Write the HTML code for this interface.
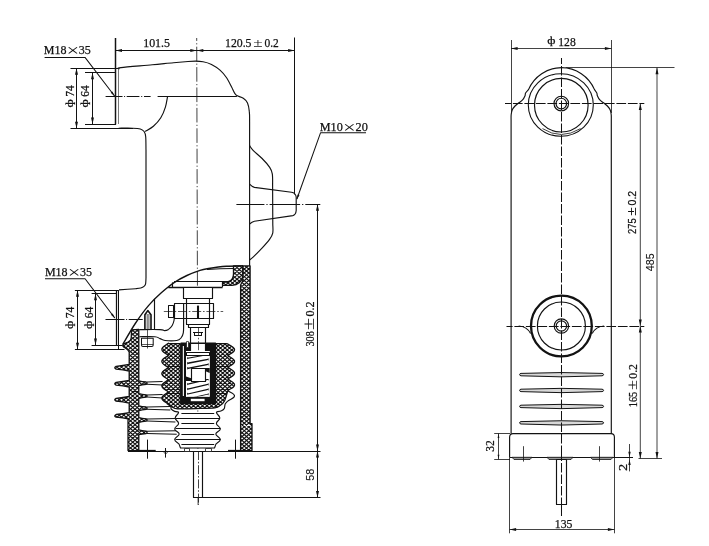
<!DOCTYPE html>
<html><head><meta charset="utf-8"><title>drawing</title>
<style>html,body{margin:0;padding:0;background:#fff}svg{display:block}</style></head>
<body>
<svg width="709" height="546" viewBox="0 0 709 546" stroke="#111" fill="none" stroke-linecap="butt" stroke-linejoin="round">
<defs>
<clipPath id="sp"><rect x="186" y="351" width="23.7" height="45.7"/></clipPath>
</defs>
<rect width="709" height="546" fill="#fff" stroke="none"/>
<g opacity="0.995">
<line x1="115.5" y1="38" x2="115.5" y2="124.5" stroke-width="1.49" />
<line x1="118.5" y1="68.5" x2="118.5" y2="124" stroke-width="0.8" stroke="#555"/>
<path d="M196.7,38L198.1,505" stroke-width="0.8" fill="none" stroke-dasharray="14.6 2.3 1.2 2.3" stroke-dashoffset="11.7"/>
<line x1="294.5" y1="37.5" x2="294.5" y2="194.5" stroke-width="1.03" />
<line x1="115.5" y1="50.5" x2="294.6" y2="50.5" stroke-width="1.03" />
<polygon points="115.5,50.5 122,49 122,52" fill="#111" stroke="none"/>
<polygon points="196.8,50.5 190.3,52 190.3,49" fill="#111" stroke="none"/>
<polygon points="196.8,50.5 203.3,49 203.3,52" fill="#111" stroke="none"/>
<polygon points="294.6,50.5 288.1,52 288.1,49" fill="#111" stroke="none"/>
<text transform="translate(143.2 47.4)" font-family='"Liberation Serif",serif' fill="#111" stroke="#111" stroke-width="0.25"><tspan x="0" y="0" font-size="12.3" textLength="26.8" lengthAdjust="spacingAndGlyphs">101.5</tspan></text>
<text transform="translate(225 47.4)" font-family='"Liberation Serif",serif' fill="#111" stroke="#111" stroke-width="0.25"><tspan x="0" y="0" font-size="12.3" textLength="26.5" lengthAdjust="spacingAndGlyphs">120.5</tspan><tspan x="28.2" y="0" font-size="13.4" textLength="9.4" lengthAdjust="spacingAndGlyphs" stroke-width="0">±</tspan><tspan x="39.5" y="0" font-size="12.3" textLength="14.3" lengthAdjust="spacingAndGlyphs">0.2</tspan></text>
<text transform="translate(43.7 54.2)" font-family='"Liberation Serif",serif' fill="#111" stroke="#111" stroke-width="0.25"><tspan x="0" y="0" font-size="12" textLength="22.7" lengthAdjust="spacingAndGlyphs">M18</tspan><tspan x="22.9" y="1.9" font-size="16" textLength="12.7" lengthAdjust="spacingAndGlyphs" stroke-width="0">×</tspan><tspan x="35" y="0" font-size="12" textLength="12" lengthAdjust="spacingAndGlyphs">35</tspan></text>
<path d="M44.6,57.4H85L114.6,96" stroke-width="1.03" fill="none" />
<polygon points="114.9,96.4 110.7,92.7 112.4,91.4" fill="#111" stroke="none"/>
<line x1="70.5" y1="68.5" x2="118.6" y2="68.5" stroke-width="1.03" />
<line x1="70.5" y1="128.5" x2="133" y2="128.5" stroke-width="1.03" />
<line x1="85" y1="72.5" x2="116" y2="72.5" stroke-width="1.03" />
<line x1="85" y1="124.5" x2="116" y2="124.5" stroke-width="1.03" />
<line x1="76.5" y1="68.3" x2="76.5" y2="128.2" stroke-width="1.03" />
<polygon points="76.5,68.3 78,74.8 75,74.8" fill="#111" stroke="none"/>
<polygon points="76.5,128.2 75,121.7 78,121.7" fill="#111" stroke="none"/>
<line x1="92.5" y1="72.7" x2="92.5" y2="124.1" stroke-width="1.03" />
<polygon points="92.5,72.7 94,79.2 91,79.2" fill="#111" stroke="none"/>
<polygon points="92.5,124.1 91,117.6 94,117.6" fill="#111" stroke="none"/>
<text transform="translate(73.5 107) rotate(-90)" font-family='"Liberation Serif",serif' fill="#111" stroke="#111" stroke-width="0.25"><tspan x="-0.4" y="-0.9" font-size="10.5" textLength="8.2" lengthAdjust="spacingAndGlyphs">ф</tspan><tspan x="10.2" y="0" font-size="11.6" textLength="11.4" lengthAdjust="spacingAndGlyphs">74</tspan></text>
<text transform="translate(89.3 107) rotate(-90)" font-family='"Liberation Serif",serif' fill="#111" stroke="#111" stroke-width="0.25"><tspan x="-0.4" y="-0.9" font-size="10.5" textLength="8.2" lengthAdjust="spacingAndGlyphs">ф</tspan><tspan x="10.2" y="0" font-size="11.6" textLength="11.4" lengthAdjust="spacingAndGlyphs">64</tspan></text>
<path d="M118.6,69.3C118.7,69.1 118.9,68.5 119.3,68.2C119.7,67.9 115.5,68.2 121,67.6C126.5,67 143.6,65.6 152.3,64.8C161.1,64 167.6,63.2 173.5,62.7C179.4,62.2 184.3,61.8 188,61.5C191.7,61.2 193,61.1 195.5,61.1C198,61.1 200.4,61.2 203.1,61.7C205.8,62.2 208.7,63 211.5,64.4C214.3,65.8 217.5,67.9 220,70.1C222.5,72.3 224.5,74.7 226.4,77.5C228.3,80.3 230.2,84.3 231.6,87C233,89.7 233.9,92 234.8,93.4C235.7,94.8 235.5,94.8 236.9,95.6C238.3,96.4 241.5,97 243.3,98.2C245.1,99.4 246.5,100.7 247.5,102.9C248.5,105.1 249,108.2 249.3,111.4C249.7,114.6 249.6,117.1 249.6,121.9C249.6,126.7 249.6,137 249.6,140V266" stroke-width="1.15" fill="none" />
<line x1="157.6" y1="96.5" x2="236.9" y2="96.5" stroke-width="1.15" />
<line x1="105.6" y1="96.5" x2="150.6" y2="96.5" stroke-width="1.03" stroke-dasharray="16.9 1.6 1 1.6 12.7 1.8 1 1.8 6.6"/>
<path d="M167.6,96.3C167.2,98.1 166.5,103.5 165.4,107.1C164.3,110.7 162.8,114.5 160.8,117.7C158.8,120.9 156,123.9 153.4,126.2C150.8,128.5 146.6,130.5 145.2,131.4" stroke-width="1.15" fill="none" />
<path d="M118.6,128.2C120.9,128.2 129,128.1 132.6,128.2C136.2,128.3 138.4,128.4 140.3,129C142.2,129.6 143.2,130.2 144.1,131.5C145,132.8 145.4,133.6 145.7,136.7C146,139.8 145.9,147.8 146,150L146,278 C145.9,279 145.9,282.4 145.6,283.8C145.3,285.2 144.8,285.7 144,286.4C143.2,287.1 142.2,287.6 140.8,288C139.4,288.4 139.2,288.4 135.6,288.7C132,289 121.8,289.7 119,289.9" stroke-width="1.15" fill="none" />
<path d="M249.6,145.6C250.2,146.4 251,148.2 253.1,150.3C255.2,152.5 259.3,155.7 262.1,158.5C264.9,161.3 268,164.8 269.7,167.4C271.4,170 271.8,170.9 272.3,173.8C272.8,176.7 272.6,183.1 272.6,185L272.8,225C272.8,226.3 273.3,230.4 272.8,232.8C272.3,235.2 271.5,236.6 269.7,239.2C267.9,241.8 264.8,245.2 262,248.2C259.2,251.2 255.2,255.2 253.1,257.2C251,259.2 250.2,259.5 249.6,260" stroke-width="1.15" fill="none" />
<path d="M249.6,184.1Q252,186.6 254.4,187.4L291.5,192.3Q295.6,193 296.2,197V210.5Q295.8,215 292.8,215.6L254.4,221.3Q252,222 249.6,224" stroke-width="1.15" fill="none" />
<line x1="236.4" y1="204.5" x2="320.5" y2="204.5" stroke-width="1.03" stroke-dasharray="28 2 1.2 2 30.5 2 1.2 2 15"/>
<text transform="translate(319.8 130.8)" font-family='"Liberation Serif",serif' fill="#111" stroke="#111" stroke-width="0.25"><tspan x="0" y="0" font-size="12" textLength="23" lengthAdjust="spacingAndGlyphs">M10</tspan><tspan x="23.2" y="1.9" font-size="16" textLength="12.7" lengthAdjust="spacingAndGlyphs" stroke-width="0">×</tspan><tspan x="35.7" y="0" font-size="12" textLength="12.3" lengthAdjust="spacingAndGlyphs">20</tspan></text>
<path d="M366,132.8H320.5L296.9,199" stroke-width="1.03" fill="none" />
<polygon points="296.9,199.5 297.6,194.5 299.5,195.1" fill="#111" stroke="none"/>
<line x1="317.5" y1="204.2" x2="317.5" y2="497.5" stroke-width="1.03" />
<polygon points="317.5,204.2 319,210.7 316,210.7" fill="#111" stroke="none"/>
<polygon points="317.5,451 316,444.5 319,444.5" fill="#111" stroke="none"/>
<polygon points="317.5,451 319,457.5 316,457.5" fill="#111" stroke="none"/>
<polygon points="317.5,497.5 316,491 319,491" fill="#111" stroke="none"/>
<line x1="128" y1="451.5" x2="320.5" y2="451.5" stroke-width="1.03" />
<line x1="198" y1="497.5" x2="320.5" y2="497.5" stroke-width="1.03" />
<text transform="translate(313.5 346.5) rotate(-90)" font-family='"Liberation Serif",serif' fill="#111" stroke="#111" stroke-width="0.25"><tspan x="0" y="0" font-size="12.6" textLength="15.3" lengthAdjust="spacingAndGlyphs">308</tspan><tspan x="16.3" y="0" font-size="15.7" textLength="12.6" lengthAdjust="spacingAndGlyphs" stroke-width="0">±</tspan><tspan x="29.9" y="0" font-size="12.6" textLength="15.2" lengthAdjust="spacingAndGlyphs">0.2</tspan></text>
<text transform="translate(313.5 480.7) rotate(-90)" font-family='"Liberation Sans",sans-serif' fill="#111" stroke="#111" stroke-width="0.1"><tspan x="0" y="0" font-size="11.4" textLength="12" lengthAdjust="spacingAndGlyphs">58</tspan></text>
<text transform="translate(44.9 275.9)" font-family='"Liberation Serif",serif' fill="#111" stroke="#111" stroke-width="0.25"><tspan x="0" y="0" font-size="12" textLength="22.7" lengthAdjust="spacingAndGlyphs">M18</tspan><tspan x="22.9" y="1.9" font-size="16" textLength="12.7" lengthAdjust="spacingAndGlyphs" stroke-width="0">×</tspan><tspan x="35" y="0" font-size="12" textLength="12" lengthAdjust="spacingAndGlyphs">35</tspan></text>
<path d="M45,278.8H85.1L114.8,318" stroke-width="1.03" fill="none" />
<polygon points="115.1,318.4 110.9,314.7 112.7,313.4" fill="#111" stroke="none"/>
<line x1="74.9" y1="290.5" x2="118.8" y2="290.5" stroke-width="1.03" />
<line x1="74.9" y1="349.5" x2="124.5" y2="349.5" stroke-width="1.03" />
<line x1="91.6" y1="293.5" x2="116" y2="293.5" stroke-width="1.03" />
<line x1="91.6" y1="345.5" x2="122.5" y2="345.5" stroke-width="1.03" />
<line x1="77.5" y1="290.2" x2="77.5" y2="349.2" stroke-width="1.03" />
<polygon points="77.5,290.2 79,296.7 76,296.7" fill="#111" stroke="none"/>
<polygon points="77.5,349.2 76,342.7 79,342.7" fill="#111" stroke="none"/>
<line x1="95.5" y1="293.8" x2="95.5" y2="345" stroke-width="1.03" />
<polygon points="95.5,293.8 97,300.3 94,300.3" fill="#111" stroke="none"/>
<polygon points="95.5,345 94,338.5 97,338.5" fill="#111" stroke="none"/>
<text transform="translate(74.2 328.5) rotate(-90)" font-family='"Liberation Serif",serif' fill="#111" stroke="#111" stroke-width="0.25"><tspan x="-0.4" y="-0.9" font-size="10.5" textLength="8.2" lengthAdjust="spacingAndGlyphs">ф</tspan><tspan x="10.2" y="0" font-size="11.6" textLength="11.4" lengthAdjust="spacingAndGlyphs">74</tspan></text>
<text transform="translate(92.8 328.5) rotate(-90)" font-family='"Liberation Serif",serif' fill="#111" stroke="#111" stroke-width="0.25"><tspan x="-0.4" y="-0.9" font-size="10.5" textLength="8.2" lengthAdjust="spacingAndGlyphs">ф</tspan><tspan x="10.2" y="0" font-size="11.6" textLength="11.4" lengthAdjust="spacingAndGlyphs">64</tspan></text>
<line x1="116.5" y1="290.2" x2="116.5" y2="345" stroke-width="1.26" />
<line x1="118.5" y1="290.2" x2="118.5" y2="349.2" stroke-width="1.03" />
<line x1="105.5" y1="319.5" x2="143" y2="319.5" stroke-width="1.03" stroke-dasharray="19 1.6 1 1.6 14"/>
<path d="M243,265.9C240.2,266 232.2,265.9 226.4,266.3C220.7,266.7 212.9,267.8 208.5,268.5C204.1,269.2 203.6,269.2 200,270.4C196.4,271.6 191.2,273.5 186.9,275.5C182.6,277.5 178.4,279.7 174.1,282.6C169.8,285.5 165.6,289 161.3,292.8C157,296.6 152.8,300.6 148.5,305.6C144.2,310.6 139.9,316.5 135.6,323C131.3,329.5 124.9,340.8 122.8,344.4" stroke-width="1.38" fill="none" />
<clipPath id="c1"><path d="M242.7,265.9H250.1V423.6H252V450.6H240.6V285L242.7,281Z"/></clipPath>
<path d="M242.7,265.9H250.1V423.6H252V450.6H240.6V285L242.7,281Z" fill="#fff" stroke="none"/>
<path d="M240,250L253,261.1M240,253.9L253,265M240,257.7L253,268.8M240,261.6L253,272.7M240,265.4L253,276.6M240,269.3L253,280.4M240,273.1L253,284.3M240,277L253,288.1M240,280.8L253,292M240,284.7L253,295.8M240,288.5L253,299.7M240,292.4L253,303.5M240,296.2L253,307.4M240,300.1L253,311.2M240,303.9L253,315.1M240,307.8L253,318.9M240,311.6L253,322.8M240,315.5L253,326.6M240,319.3L253,330.5M240,323.2L253,334.3M240,327L253,338.2M240,330.9L253,342M240,334.7L253,345.9M240,338.6L253,349.7M240,342.4L253,353.6M240,346.3L253,357.4M240,350.1L253,361.3M240,354L253,365.1M240,357.8L253,369M240,361.7L253,372.8M240,365.5L253,376.7M240,369.4L253,380.5M240,373.2L253,384.4M240,377.1L253,388.2M240,380.9L253,392.1M240,384.8L253,395.9M240,388.6L253,399.8M240,392.5L253,403.6M240,396.3L253,407.5M240,400.2L253,411.3M240,404L253,415.2M240,407.9L253,419M240,411.7L253,422.9M240,415.6L253,426.7M240,419.4L253,430.6M240,423.3L253,434.4M240,427.1L253,438.3M240,431L253,442.1M240,434.8L253,446M240,438.7L253,449.8M240,442.5L253,453.7M240,446.4L253,457.5M240,450.2L253,461.4M240,454.1L253,465.2M240,261.1L253,250M240,265L253,253.9M240,268.9L253,257.7M240,272.7L253,261.6M240,276.6L253,265.4M240,280.4L253,269.3M240,284.3L253,273.1M240,288.1L253,277M240,292L253,280.8M240,295.8L253,284.7M240,299.7L253,288.5M240,303.5L253,292.4M240,307.4L253,296.2M240,311.2L253,300.1M240,315.1L253,303.9M240,318.9L253,307.8M240,322.8L253,311.6M240,326.6L253,315.5M240,330.5L253,319.3M240,334.3L253,323.2M240,338.2L253,327M240,342L253,330.9M240,345.9L253,334.7M240,349.7L253,338.6M240,353.6L253,342.4M240,357.4L253,346.3M240,361.3L253,350.1M240,365.1L253,354M240,369L253,357.8M240,372.8L253,361.7M240,376.7L253,365.5M240,380.5L253,369.4M240,384.4L253,373.2M240,388.2L253,377.1M240,392.1L253,380.9M240,395.9L253,384.8M240,399.8L253,388.6M240,403.6L253,392.5M240,407.5L253,396.3M240,411.3L253,400.2M240,415.2L253,404M240,419L253,407.9M240,422.9L253,411.7M240,426.7L253,415.6M240,430.6L253,419.4M240,434.4L253,423.3M240,438.3L253,427.1M240,442.1L253,431M240,446L253,434.8M240,449.8L253,438.7M240,453.7L253,442.5M240,457.5L253,446.4M240,461.4L253,450.2M240,465.2L253,454.1" stroke-width="1.15" clip-path="url(#c1)"/>
<path d="M242.7,265.9H250.1V423.6H252V450.6H240.6V285L242.7,281Z" stroke-width="1.3"/>
<clipPath id="c2"><path d="M233.5,266H242.7V275.5Q242.4,280.5 239.2,282.8Q236.5,285.2 232,285.4H222.6V282.2H226.4Q230.5,281.8 231.8,279.6Q233.5,277.5 233.5,274Z"/></clipPath>
<path d="M233.5,266H242.7V275.5Q242.4,280.5 239.2,282.8Q236.5,285.2 232,285.4H222.6V282.2H226.4Q230.5,281.8 231.8,279.6Q233.5,277.5 233.5,274Z" fill="#fff" stroke="none"/>
<path d="M222,243.2L243,261.1M222,247L243,265M222,250.9L243,268.9M222,254.7L243,272.7M222,258.6L243,276.5M222,262.4L243,280.4M222,266.3L243,284.2M222,270.1L243,288.1M222,274L243,292M222,277.8L243,295.8M222,281.7L243,299.7M222,285.5L243,303.5M222,289.4L243,307.4M222,261.1L243,243.2M222,265L243,247M222,268.9L243,250.9M222,272.7L243,254.7M222,276.6L243,258.6M222,280.4L243,262.4M222,284.3L243,266.3M222,288.1L243,270.1M222,292L243,274M222,295.8L243,277.8M222,299.7L243,281.7M222,303.5L243,285.5M222,307.4L243,289.4" stroke-width="1.15" clip-path="url(#c2)"/>
<path d="M233.5,266H242.7V275.5Q242.4,280.5 239.2,282.8Q236.5,285.2 232,285.4H222.6V282.2H226.4Q230.5,281.8 231.8,279.6Q233.5,277.5 233.5,274Z" stroke-width="1.3"/>
<path d="M207,269.6Q220,268.4 233.5,268.4" stroke-width="1.03" fill="none" />
<path d="M174,281.5H228Q232.5,281 233.5,276" stroke-width="1.15" fill="none" />
<line x1="168.3" y1="287.5" x2="222.6" y2="287.5" stroke-width="1.26" />
<line x1="222.5" y1="282.2" x2="222.5" y2="287" stroke-width="1.15" />
<line x1="172.5" y1="282.4" x2="172.5" y2="287" stroke-width="1.15" />
<rect x="183.5" y="287.5" width="29" height="11" stroke-width="1.15" fill="#fff" />
<rect x="186.5" y="298.5" width="23" height="26" stroke-width="1.15" fill="#fff" />
<rect x="174.5" y="303.5" width="39" height="15" stroke-width="1.15" fill="#fff" />
<line x1="186.5" y1="303.1" x2="186.5" y2="318.5" stroke-width="1.15" />
<line x1="209.5" y1="303.1" x2="209.5" y2="318.5" stroke-width="1.15" />
<line x1="198" y1="305.6" x2="198" y2="318.5" stroke-width="2.07" />
<rect x="168.5" y="305.5" width="5" height="12" stroke-width="1.03" fill="#fff" />
<line x1="163.8" y1="311.5" x2="223.2" y2="311.5" stroke-width="0.7" stroke-dasharray="9 1.8 1.6 1.8"/>
<rect x="188.5" y="324.5" width="20" height="3" stroke-width="1.15" fill="#fff" />
<rect x="190.5" y="327.5" width="15" height="24" stroke-width="1.15" fill="#fff" />
<line x1="193" y1="332.5" x2="203" y2="332.5" stroke-width="1.03" />
<rect x="194.5" y="332.5" width="7" height="3" stroke-width="1.03" fill="none" />
<line x1="154.5" y1="298.8" x2="154.5" y2="329.6" stroke-width="1.15" />
<path d="M144.9,329V314.8L147.8,310.6L151,314.8V329" stroke-width="1.61" fill="none" />
<path d="M147.2,314V329M148.9,314V329" stroke-width="0.7" fill="none" />
<path d="M139.2,329.6C142.7,329.6 155.8,329.4 160,329.6C164.2,329.8 163.1,330.6 164.5,330.6C165.9,330.6 167.2,330.2 168.5,329.4C169.8,328.5 171.3,327 172.2,325.5C173.1,324 173.7,321.9 174,320.5C174.3,319.1 174.2,317.8 174.2,317.2" stroke-width="1.15" fill="none" />
<path d="M139.2,336.7C141.8,336.7 151.4,336.4 154.9,336.7C158.4,337 158.3,338 160,338.6C161.7,339.2 162.2,340.2 165,340.5C167.8,340.8 174,340.9 176.7,340.5C179.4,340.1 179.9,339.3 181,338C182.1,336.7 182.9,335.1 183.3,332.8C183.7,330.6 183.6,329.4 183.6,324.5C183.6,319.6 183.6,307.1 183.6,303.6" stroke-width="1.15" fill="none" />
<path d="M141.5,338.3H153.2V345Q153.2,346.4 151.8,346.4H142.9Q141.5,346.4 141.5,345Z" stroke-width="1.03" fill="none" />
<line x1="141.5" y1="344.5" x2="153.2" y2="344.5" stroke-width="0.7" />
<line x1="147.5" y1="329" x2="147.5" y2="348.5" stroke-width="0.7" />
<clipPath id="c3"><path d="M131.6,329.8L138.8,329.4L138.8,380.8Q141.8,381.7 146.2,382Q148,383.2 146.2,384.4Q141.8,384.7 138.8,385.6L138.8,393.6Q141.8,394.5 146.2,394.8Q148,396 146.2,397.2Q141.8,397.5 138.8,398.4L138.8,405.8Q141.8,406.7 146.2,407Q148,408.2 146.2,409.4Q141.8,409.7 138.8,410.6L138.8,417.6Q141.8,418.5 146.2,418.8Q148,420 146.2,421.2Q141.8,421.5 138.8,422.4L138.8,429.9Q141.8,430.8 146.2,431.1Q148,432.3 146.2,433.5Q141.8,433.8 138.8,434.7L138.8,450.6H128V420L129.2,419.2Q123.2,417.9 116.1,417.2Q113.4,415.9 116.1,414.5Q123.2,413.9 129.2,412.6L129.2,403.1Q123.2,401.8 116.1,401.2Q113.4,399.8 116.1,398.4Q123.2,397.8 129.2,396.5L129.2,387Q123.2,385.7 116.1,385.1Q113.4,383.7 116.1,382.3Q123.2,381.7 129.2,380.4L129.2,371Q123.2,369.7 116.1,369.1Q113.4,367.7 116.1,366.3Q123.2,365.7 129.2,364.4L129.2,352Q128.5,349.5 124.8,347.6Q122,346.2 123,344.6Q124.5,343.3 128,342Q131,340.8 131.2,338Z"/></clipPath>
<path d="M131.6,329.8L138.8,329.4L138.8,380.8Q141.8,381.7 146.2,382Q148,383.2 146.2,384.4Q141.8,384.7 138.8,385.6L138.8,393.6Q141.8,394.5 146.2,394.8Q148,396 146.2,397.2Q141.8,397.5 138.8,398.4L138.8,405.8Q141.8,406.7 146.2,407Q148,408.2 146.2,409.4Q141.8,409.7 138.8,410.6L138.8,417.6Q141.8,418.5 146.2,418.8Q148,420 146.2,421.2Q141.8,421.5 138.8,422.4L138.8,429.9Q141.8,430.8 146.2,431.1Q148,432.3 146.2,433.5Q141.8,433.8 138.8,434.7L138.8,450.6H128V420L129.2,419.2Q123.2,417.9 116.1,417.2Q113.4,415.9 116.1,414.5Q123.2,413.9 129.2,412.6L129.2,403.1Q123.2,401.8 116.1,401.2Q113.4,399.8 116.1,398.4Q123.2,397.8 129.2,396.5L129.2,387Q123.2,385.7 116.1,385.1Q113.4,383.7 116.1,382.3Q123.2,381.7 129.2,380.4L129.2,371Q123.2,369.7 116.1,369.1Q113.4,367.7 116.1,366.3Q123.2,365.7 129.2,364.4L129.2,352Q128.5,349.5 124.8,347.6Q122,346.2 123,344.6Q124.5,343.3 128,342Q131,340.8 131.2,338Z" fill="#fff" stroke="none"/>
<path d="M112,293.5L149,325.1M112,297.3L149,329M112,301.2L149,332.9M112,305L149,336.7M112,308.9L149,340.6M112,312.7L149,344.4M112,316.6L149,348.3M112,320.4L149,352.1M112,324.3L149,356M112,328.1L149,359.8M112,332L149,363.7M112,335.8L149,367.5M112,339.7L149,371.4M112,343.5L149,375.2M112,347.4L149,379.1M112,351.2L149,382.9M112,355.1L149,386.8M112,358.9L149,390.6M112,362.8L149,394.5M112,366.6L149,398.3M112,370.5L149,402.2M112,374.3L149,406M112,378.2L149,409.9M112,382L149,413.7M112,385.9L149,417.6M112,389.7L149,421.4M112,393.6L149,425.3M112,397.4L149,429.1M112,401.3L149,433M112,405.1L149,436.8M112,409L149,440.7M112,412.8L149,444.5M112,416.7L149,448.4M112,420.5L149,452.2M112,424.4L149,456.1M112,428.2L149,459.9M112,432.1L149,463.8M112,435.9L149,467.6M112,439.8L149,471.5M112,443.6L149,475.3M112,447.5L149,479.2M112,451.3L149,483M112,455.2L149,486.9M112,325.1L149,293.5M112,329L149,297.3M112,332.9L149,301.2M112,336.7L149,305M112,340.6L149,308.9M112,344.4L149,312.7M112,348.3L149,316.6M112,352.1L149,320.4M112,356L149,324.3M112,359.8L149,328.1M112,363.7L149,332M112,367.5L149,335.8M112,371.4L149,339.7M112,375.2L149,343.5M112,379.1L149,347.4M112,382.9L149,351.2M112,386.8L149,355.1M112,390.6L149,358.9M112,394.5L149,362.8M112,398.3L149,366.6M112,402.2L149,370.5M112,406L149,374.3M112,409.9L149,378.2M112,413.7L149,382M112,417.6L149,385.9M112,421.4L149,389.7M112,425.3L149,393.6M112,429.1L149,397.4M112,433L149,401.3M112,436.8L149,405.1M112,440.7L149,409M112,444.5L149,412.8M112,448.4L149,416.7M112,452.2L149,420.5M112,456.1L149,424.4M112,459.9L149,428.2M112,463.8L149,432.1M112,467.6L149,435.9M112,471.5L149,439.8M112,475.3L149,443.6M112,479.2L149,447.5M112,483L149,451.3M112,486.9L149,455.2" stroke-width="1.15" clip-path="url(#c3)"/>
<path d="M131.6,329.8L138.8,329.4L138.8,380.8Q141.8,381.7 146.2,382Q148,383.2 146.2,384.4Q141.8,384.7 138.8,385.6L138.8,393.6Q141.8,394.5 146.2,394.8Q148,396 146.2,397.2Q141.8,397.5 138.8,398.4L138.8,405.8Q141.8,406.7 146.2,407Q148,408.2 146.2,409.4Q141.8,409.7 138.8,410.6L138.8,417.6Q141.8,418.5 146.2,418.8Q148,420 146.2,421.2Q141.8,421.5 138.8,422.4L138.8,429.9Q141.8,430.8 146.2,431.1Q148,432.3 146.2,433.5Q141.8,433.8 138.8,434.7L138.8,450.6H128V420L129.2,419.2Q123.2,417.9 116.1,417.2Q113.4,415.9 116.1,414.5Q123.2,413.9 129.2,412.6L129.2,403.1Q123.2,401.8 116.1,401.2Q113.4,399.8 116.1,398.4Q123.2,397.8 129.2,396.5L129.2,387Q123.2,385.7 116.1,385.1Q113.4,383.7 116.1,382.3Q123.2,381.7 129.2,380.4L129.2,371Q123.2,369.7 116.1,369.1Q113.4,367.7 116.1,366.3Q123.2,365.7 129.2,364.4L129.2,352Q128.5,349.5 124.8,347.6Q122,346.2 123,344.6Q124.5,343.3 128,342Q131,340.8 131.2,338Z" stroke-width="1.3"/>
<path d="M147,382.1L162.6,381.6M147,384.3L162.6,385.1" stroke-width="1.03" fill="none" />
<path d="M147,394.9L162.6,394.4M147,397.1L162.6,397.9" stroke-width="1.03" fill="none" />
<path d="M147,407.1L170.3,406.6M147,409.3L170.3,410.1" stroke-width="1.03" fill="none" />
<path d="M147,418.9L175.4,418.4M147,421.1L175.4,421.9" stroke-width="1.03" fill="none" />
<path d="M147,431.2L176.7,430.7M147,433.4L176.7,434.2" stroke-width="1.03" fill="none" />
<clipPath id="c4"><path d="M180.3,343.7H171Q168.4,343.7 168.4,343.2C165.5,345.6 161.4,346.9 161.9,349.3C161.4,351.7 165.5,353 168.4,355.4C165.5,357.8 161.4,359.1 161.9,361.5C161.4,363.9 165.5,365.2 168.4,367.6C165.5,370 161.4,371.3 161.9,373.7C161.4,376.1 165.5,377.4 168.4,379.8C165.5,382.2 161.4,383.5 161.9,385.9C161.4,388.3 165.5,389.6 168.4,392C165.5,394.4 161.4,395.7 161.9,398.1C161.4,400.5 165.5,401.8 168.4,404.2C168.7,404.5 169.3,405.5 170,406C170.7,406.5 171.2,406.7 172.5,407.2C173.8,407.7 173.8,408.6 177.7,408.8C181.6,409 189.8,408.8 196,408.6C202.2,408.4 210.9,408.3 214.9,407.8C218.9,407.3 218.4,406.6 220,405.5C221.6,404.4 223.2,403.5 224.5,401C225.8,398.5 227.2,392.4 227.8,390.7C230.8,388.4 235,387.2 234.5,384.8C235,382.5 230.8,381.3 227.8,379C230.8,376.7 235,375.5 234.5,373.1C235,370.8 230.8,369.6 227.8,367.3C230.8,365 235,363.8 234.5,361.4C235,359.1 230.8,357.9 227.8,355.6C230.8,353.3 235,352.1 234.5,349.7C235,347.4 230.8,346.2 227.8,343.9Q227.8,343.7 226,343.7H215.5V403.7H180.3Z"/></clipPath>
<path d="M180.3,343.7H171Q168.4,343.7 168.4,343.2C165.5,345.6 161.4,346.9 161.9,349.3C161.4,351.7 165.5,353 168.4,355.4C165.5,357.8 161.4,359.1 161.9,361.5C161.4,363.9 165.5,365.2 168.4,367.6C165.5,370 161.4,371.3 161.9,373.7C161.4,376.1 165.5,377.4 168.4,379.8C165.5,382.2 161.4,383.5 161.9,385.9C161.4,388.3 165.5,389.6 168.4,392C165.5,394.4 161.4,395.7 161.9,398.1C161.4,400.5 165.5,401.8 168.4,404.2C168.7,404.5 169.3,405.5 170,406C170.7,406.5 171.2,406.7 172.5,407.2C173.8,407.7 173.8,408.6 177.7,408.8C181.6,409 189.8,408.8 196,408.6C202.2,408.4 210.9,408.3 214.9,407.8C218.9,407.3 218.4,406.6 220,405.5C221.6,404.4 223.2,403.5 224.5,401C225.8,398.5 227.2,392.4 227.8,390.7C230.8,388.4 235,387.2 234.5,384.8C235,382.5 230.8,381.3 227.8,379C230.8,376.7 235,375.5 234.5,373.1C235,370.8 230.8,369.6 227.8,367.3C230.8,365 235,363.8 234.5,361.4C235,359.1 230.8,357.9 227.8,355.6C230.8,353.3 235,352.1 234.5,349.7C235,347.4 230.8,346.2 227.8,343.9Q227.8,343.7 226,343.7H215.5V403.7H180.3Z" fill="#fff" stroke="none"/>
<path d="M160,273.1L236,338.1M160,277L236,342M160,280.8L236,345.9M160,284.7L236,349.7M160,288.5L236,353.6M160,292.4L236,357.4M160,296.2L236,361.3M160,300.1L236,365.1M160,303.9L236,369M160,307.8L236,372.8M160,311.6L236,376.7M160,315.5L236,380.5M160,319.3L236,384.4M160,323.2L236,388.2M160,327L236,392.1M160,330.9L236,395.9M160,334.7L236,399.8M160,338.6L236,403.6M160,342.4L236,407.5M160,346.3L236,411.3M160,350.1L236,415.2M160,354L236,419M160,357.8L236,422.9M160,361.7L236,426.7M160,365.5L236,430.6M160,369.4L236,434.4M160,373.2L236,438.3M160,377.1L236,442.1M160,380.9L236,446M160,384.8L236,449.8M160,388.6L236,453.7M160,392.5L236,457.5M160,396.3L236,461.4M160,400.2L236,465.2M160,404L236,469.1M160,407.9L236,472.9M160,411.7L236,476.8M160,338.1L236,273.1M160,342L236,277M160,345.9L236,280.8M160,349.7L236,284.7M160,353.6L236,288.5M160,357.4L236,292.4M160,361.3L236,296.2M160,365.1L236,300.1M160,369L236,303.9M160,372.8L236,307.8M160,376.7L236,311.6M160,380.5L236,315.5M160,384.4L236,319.3M160,388.2L236,323.2M160,392.1L236,327M160,395.9L236,330.9M160,399.8L236,334.7M160,403.6L236,338.6M160,407.5L236,342.4M160,411.3L236,346.3M160,415.2L236,350.1M160,419L236,354M160,422.9L236,357.8M160,426.7L236,361.7M160,430.6L236,365.5M160,434.4L236,369.4M160,438.3L236,373.2M160,442.1L236,377.1M160,446L236,380.9M160,449.8L236,384.8M160,453.7L236,388.6M160,457.5L236,392.5M160,461.4L236,396.3M160,465.2L236,400.2M160,469.1L236,404M160,472.9L236,407.9M160,476.8L236,411.7" stroke-width="1.15" clip-path="url(#c4)"/>
<path d="M180.3,343.7H171Q168.4,343.7 168.4,343.2C165.5,345.6 161.4,346.9 161.9,349.3C161.4,351.7 165.5,353 168.4,355.4C165.5,357.8 161.4,359.1 161.9,361.5C161.4,363.9 165.5,365.2 168.4,367.6C165.5,370 161.4,371.3 161.9,373.7C161.4,376.1 165.5,377.4 168.4,379.8C165.5,382.2 161.4,383.5 161.9,385.9C161.4,388.3 165.5,389.6 168.4,392C165.5,394.4 161.4,395.7 161.9,398.1C161.4,400.5 165.5,401.8 168.4,404.2C168.7,404.5 169.3,405.5 170,406C170.7,406.5 171.2,406.7 172.5,407.2C173.8,407.7 173.8,408.6 177.7,408.8C181.6,409 189.8,408.8 196,408.6C202.2,408.4 210.9,408.3 214.9,407.8C218.9,407.3 218.4,406.6 220,405.5C221.6,404.4 223.2,403.5 224.5,401C225.8,398.5 227.2,392.4 227.8,390.7C230.8,388.4 235,387.2 234.5,384.8C235,382.5 230.8,381.3 227.8,379C230.8,376.7 235,375.5 234.5,373.1C235,370.8 230.8,369.6 227.8,367.3C230.8,365 235,363.8 234.5,361.4C235,359.1 230.8,357.9 227.8,355.6C230.8,353.3 235,352.1 234.5,349.7C235,347.4 230.8,346.2 227.8,343.9Q227.8,343.7 226,343.7H215.5V403.7H180.3Z" stroke-width="1.3"/>
<path d="M227.8,390.7C230.8,392.8 234.9,393.8 234.4,395.9C234.9,397.9 230.8,398.9 227.8,401" stroke-width="1.15" fill="none" />
<path d="M180.6,342.6H215.9V403.9H180.6ZM186,351H209.7V396.7H186Z" fill="#111" fill-rule="evenodd" stroke="none"/>
<rect x="182.8" y="346" width="1.2" height="50" stroke-width="0" fill="#eee" stroke="none"/>
<rect x="190.5" y="343.5" width="15" height="8" stroke-width="1.15" fill="#fff" />
<rect x="190.8" y="398.8" width="13.8" height="2.4" stroke-width="0" fill="#fff" stroke="none"/>
<rect x="186.5" y="341.5" width="2" height="6" stroke-width="0.7" fill="#fff" />
<g clip-path="url(#sp)">
<rect x="186" y="351" width="23.7" height="45.7" stroke-width="0" fill="#fff" stroke="none"/>
<rect x="187.2" y="356" width="21.4" height="14" stroke-width="0" fill="#111" stroke="none"/>
<rect x="187.2" y="379" width="21.4" height="17.7" stroke-width="0" fill="#111" stroke="none"/>
<line x1="188.4" y1="355.6" x2="207.4" y2="352.4" stroke-width="3.6" stroke-linecap="round" stroke="#fff"/>
<line x1="188.4" y1="360.6" x2="207.4" y2="357" stroke-width="3.6" stroke-linecap="round" stroke="#fff"/>
<line x1="188.4" y1="365.7" x2="207.4" y2="361.9" stroke-width="3.6" stroke-linecap="round" stroke="#fff"/>
<line x1="188.4" y1="370.8" x2="207.4" y2="366.9" stroke-width="3.6" stroke-linecap="round" stroke="#fff"/>
<line x1="188.4" y1="381.6" x2="207.4" y2="377" stroke-width="3.6" stroke-linecap="round" stroke="#fff"/>
<line x1="188.4" y1="386.5" x2="207.4" y2="381.9" stroke-width="3.6" stroke-linecap="round" stroke="#fff"/>
<line x1="188.4" y1="391.4" x2="207.4" y2="386.9" stroke-width="3.6" stroke-linecap="round" stroke="#fff"/>
<line x1="188.4" y1="396.3" x2="207.4" y2="391.9" stroke-width="3.6" stroke-linecap="round" stroke="#fff"/>
<line x1="188.4" y1="401" x2="207.4" y2="396.6" stroke-width="3.6" stroke-linecap="round" stroke="#fff"/>
</g>
<rect x="186.5" y="352.5" width="23" height="3" stroke-width="1.03" fill="#fff" />
<rect x="191.5" y="368.5" width="14" height="13" stroke-width="1.15" fill="#fff" />
<path d="M186,376.5L191.9,378.5V381H186ZM209.7,373L205,371V368H209.7Z" fill="#111" stroke="none"/>
<line x1="198.5" y1="327" x2="198.5" y2="352" stroke-width="0.7" stroke-dasharray="9 1.8 1.6 1.8"/>
<path d="M227.8,401C227.4,401.5 225.8,402.8 225.2,404C224.6,405.2 224.9,407.4 224.3,408.5C223.7,409.6 222.8,410.2 221.5,410.8C220.2,411.4 217.2,411.7 216.4,411.9" stroke-width="1.15" fill="none" />
<path d="M166.8,403.5C167.5,404 169.9,405.4 170.7,406.3C171.4,407.2 170.6,408.2 171.3,409.1C172,410 173.5,410.9 174.7,411.4C175.9,411.9 177.9,411.8 178.6,411.9" stroke-width="1.15" fill="none" />
<path d="M178.6,411.9C178.6,414.7 175.2,415.3 175.2,418.1C175.2,420.5 178.6,421 178.6,423.4C178.6,425.9 174.7,426.4 174.7,428.9C174.7,431.2 179.2,431.8 179.2,434.1C179.2,436.6 174.7,437.1 174.7,439.6C174.7,442.3 179.6,442.9 179.6,445.6L180.5,448H214.5L215.4,445.6C215.4,442.9 220.3,442.3 220.3,439.6C220.3,437.1 215.8,436.6 215.8,434.1C215.8,431.8 220.3,431.2 220.3,428.9C220.3,426.4 216.4,425.9 216.4,423.4C216.4,421 219.8,420.5 219.8,418.1C219.8,415.3 216.4,414.7 216.4,411.9L216.4,411.9" stroke-width="1.15" fill="#fff" />
<line x1="181.4" y1="413.5" x2="214.2" y2="413.5" stroke-width="1.03" />
<line x1="176" y1="418.5" x2="220" y2="418.5" stroke-width="1.03" />
<line x1="181.4" y1="423.5" x2="214.2" y2="423.5" stroke-width="1.03" />
<line x1="175.5" y1="428.5" x2="220.5" y2="428.5" stroke-width="1.03" />
<line x1="181.4" y1="434.5" x2="214.2" y2="434.5" stroke-width="1.03" />
<line x1="175.5" y1="439.5" x2="220.5" y2="439.5" stroke-width="1.03" />
<line x1="181.4" y1="444.5" x2="214.2" y2="444.5" stroke-width="1.03" />
<rect x="184.5" y="448.5" width="5" height="3" stroke-width="0.8" fill="#fff" />
<rect x="205.5" y="448.5" width="6" height="3" stroke-width="0.8" fill="#fff" />
<rect x="193.5" y="451.5" width="9" height="46" stroke-width="1.15" fill="#fff" />
<line x1="198.5" y1="451" x2="198.5" y2="505" stroke-width="0.8" stroke-dasharray="9 1.8 1.6 1.8"/>
<line x1="137.6" y1="450.9" x2="155.7" y2="450.9" stroke-width="2.07" />
<line x1="228" y1="450.9" x2="240.7" y2="450.9" stroke-width="2.07" />
<line x1="147.5" y1="439.6" x2="147.5" y2="458.7" stroke-width="1.03" />
<line x1="235.5" y1="439.6" x2="235.5" y2="458.7" stroke-width="1.03" />
<line x1="165.5" y1="448" x2="165.5" y2="457.6" stroke-width="1.03" />
<ellipse cx="165.7" cy="452.3" rx="1.6" ry="1.2" fill="none" stroke-width="0.7"/>
<line x1="511.5" y1="40" x2="511.5" y2="113" stroke-width="0.8" />
<line x1="611.5" y1="40" x2="611.5" y2="113" stroke-width="0.8" />
<line x1="511.1" y1="48.5" x2="611.4" y2="48.5" stroke-width="0.8" />
<polygon points="511.1,48.5 517.6,47 517.6,50" fill="#111" stroke="none"/>
<polygon points="611.4,48.5 604.9,50 604.9,47" fill="#111" stroke="none"/>
<text transform="translate(547.6 45.7)" font-family='"Liberation Serif",serif' fill="#111" stroke="#111" stroke-width="0.25"><tspan x="-0.4" y="-1.3" font-size="10.8" textLength="8.2" lengthAdjust="spacingAndGlyphs">ф</tspan><tspan x="10.7" y="0" font-size="12.2" textLength="17.4" lengthAdjust="spacingAndGlyphs">128</tspan></text>
<path d="M511.1,433.8V120C511.1,119.1 511,116.2 511.2,114.5C511.4,112.8 511.6,111.4 512.2,110C512.8,108.6 513.9,107.2 515,106C516.1,104.8 517.6,103.8 518.9,102.8C520.2,101.8 521.8,100.9 522.8,99.7C523.8,98.5 524.5,96.9 525,95.8C525.5,94.7 525,94 525.6,93C526.2,92 528,90.2 528.5,89.6A35.8,35.8 0 0 1 594.5,89.6C594.9,90.2 596.3,92 596.8,93C597.3,94 596.9,94.7 597.4,95.8C597.9,96.9 598.6,98.5 599.6,99.7C600.6,100.9 602.2,101.8 603.5,102.8C604.8,103.8 606.3,104.8 607.4,106C608.5,107.2 609.6,108.6 610.2,110C610.8,111.4 611,112.8 611.2,114.5C611.4,116.2 611.3,119.1 611.3,120V433.8" stroke-width="1.15" fill="none" />
<ellipse cx="560.8" cy="105" rx="32.5" ry="31.3" stroke-width="1.1"/>
<path d="M542.5,128.6Q561,140.4 580.5,128.6" stroke-width="0.8" fill="none" />
<circle cx="561.3" cy="105.2" r="26.8" stroke-width="1.15" fill="none" />
<circle cx="561.3" cy="103.6" r="7.3" stroke-width="1.15" fill="none" />
<circle cx="561.3" cy="103.6" r="5.3" stroke-width="1.15" fill="none" />
<line x1="505" y1="103.5" x2="644.3" y2="103.5" stroke-width="1.03" stroke-dasharray="9.7 1.8" stroke-dashoffset="3.6"/>
<line x1="565.6" y1="67.5" x2="674.5" y2="67.5" stroke-width="0.8" />
<path d="M657,67.7V458.6" stroke-width="0.8" fill="none" />
<polygon points="657,67.7 658.5,74.2 655.5,74.2" fill="#111" stroke="none"/>
<polygon points="657,458.6 655.5,452.1 658.5,452.1" fill="#111" stroke="none"/>
<path d="M640.3,103.5V458.6" stroke-width="0.8" fill="none" />
<polygon points="640.3,103.5 641.8,110 638.8,110" fill="#111" stroke="none"/>
<polygon points="640.3,326 638.8,319.5 641.8,319.5" fill="#111" stroke="none"/>
<polygon points="640.3,326 641.8,332.5 638.8,332.5" fill="#111" stroke="none"/>
<polygon points="640.3,458.6 638.8,452.1 641.8,452.1" fill="#111" stroke="none"/>
<text transform="translate(636.2 234) rotate(-90)" font-family='"Liberation Sans",sans-serif' fill="#111" stroke="#111" stroke-width="0.25"><tspan x="0" y="0" font-size="11.7" textLength="15.6" lengthAdjust="spacingAndGlyphs">275</tspan><tspan x="18.2" y="0" font-size="12.3" textLength="8.5" lengthAdjust="spacingAndGlyphs" stroke-width="0">±</tspan><tspan x="28.6" y="0" font-size="11.7" textLength="14.6" lengthAdjust="spacingAndGlyphs">0.2</tspan></text>
<text transform="translate(654.4 271.2) rotate(-90)" font-family='"Liberation Sans",sans-serif' fill="#111" stroke="#111" stroke-width="0.1"><tspan x="0" y="0" font-size="11.8" textLength="17.9" lengthAdjust="spacingAndGlyphs">485</tspan></text>
<text transform="translate(636.9 407.2) rotate(-90)" font-family='"Liberation Serif",serif' fill="#111" stroke="#111" stroke-width="0.25"><tspan x="0" y="0" font-size="12.6" textLength="15.4" lengthAdjust="spacingAndGlyphs">165</tspan><tspan x="17.1" y="0" font-size="13.9" textLength="10" lengthAdjust="spacingAndGlyphs" stroke-width="0">±</tspan><tspan x="28.5" y="0" font-size="12.6" textLength="14.6" lengthAdjust="spacingAndGlyphs">0.2</tspan></text>
<circle cx="561.4" cy="326" r="30.4" stroke-width="2.3" fill="none" />
<circle cx="561.4" cy="326" r="24" stroke-width="1.15" fill="none" />
<circle cx="561.4" cy="326" r="7.2" stroke-width="1.15" fill="none" />
<circle cx="561.4" cy="326" r="5.2" stroke-width="1.15" fill="none" />
<line x1="506.5" y1="326.5" x2="644.3" y2="326.5" stroke-width="1.03" stroke-dasharray="9.7 1.8" stroke-dashoffset="3.6"/>
<path d="M518.7,326Q527,326.4 530.6,333.5M604.1,326Q595.8,326.4 592.2,333.5" stroke-width="1.03" fill="none" />
<path d="M521,373.4Q561.5,371.7 602,373.4Q603.6,373.6 603.6,374.6Q603.6,375.6 602,375.8Q561.5,377.9 521,375.8Q519.6,375.6 519.6,374.6Q519.6,373.6 521,373.4Z" stroke-width="1" fill="#d8d8d8"/>
<path d="M521,389.2Q561.5,387.5 602,389.2Q603.6,389.4 603.6,390.4Q603.6,391.4 602,391.6Q561.5,393.7 521,391.6Q519.6,391.4 519.6,390.4Q519.6,389.4 521,389.2Z" stroke-width="1" fill="#d8d8d8"/>
<path d="M521,405.2Q561.5,403.5 602,405.2Q603.6,405.4 603.6,406.4Q603.6,407.4 602,407.6Q561.5,409.7 521,407.6Q519.6,407.4 519.6,406.4Q519.6,405.4 521,405.2Z" stroke-width="1" fill="#d8d8d8"/>
<path d="M521,421.6Q561.5,419.9 602,421.6Q603.6,421.8 603.6,422.8Q603.6,423.8 602,424Q561.5,426.1 521,424Q519.6,423.8 519.6,422.8Q519.6,421.8 521,421.6Z" stroke-width="1" fill="#d8d8d8"/>
<line x1="561.5" y1="58" x2="561.5" y2="516" stroke-width="1.03" stroke-dasharray="9.7 1.8" stroke-dashoffset="3.6"/>
<path d="M509.6,457.3V437Q509.8,433.6 513,433.6H611Q614.3,433.6 614.4,437V457.3" stroke-width="1.15" fill="none" />
<line x1="509.6" y1="457.5" x2="633" y2="457.5" stroke-width="1.03" />
<line x1="494.2" y1="459.5" x2="510" y2="459.5" stroke-width="0.8" />
<line x1="638.5" y1="458.5" x2="662" y2="458.5" stroke-width="0.8" />
<line x1="494.2" y1="433.5" x2="510" y2="433.5" stroke-width="0.8" />
<line x1="498.5" y1="433.5" x2="498.5" y2="459.3" stroke-width="0.8" />
<polygon points="498.5,433.5 499.4,438 497.6,438" fill="#111" stroke="none"/>
<polygon points="498.5,459.3 497.6,454.8 499.4,454.8" fill="#111" stroke="none"/>
<text transform="translate(494.2 451.8) rotate(-90)" font-family='"Liberation Serif",serif' fill="#111" stroke="#111" stroke-width="0.25"><tspan x="0" y="0" font-size="12.4" textLength="11.4" lengthAdjust="spacingAndGlyphs">32</tspan></text>
<path d="M512,457.3L514,459.5H530L532,457.3Z" fill="#999" stroke-width="0.8"/>
<path d="M547,457.3L549,459.5H571L573,457.3Z" fill="#999" stroke-width="0.8"/>
<path d="M590.5,457.3L592.5,459.5H611L613,457.3Z" fill="#999" stroke-width="0.8"/>
<line x1="523.5" y1="446.2" x2="523.5" y2="461.6" stroke-width="0.8" />
<line x1="599.5" y1="446.2" x2="599.5" y2="461.6" stroke-width="0.8" />
<rect x="556.5" y="459.5" width="10" height="45" stroke-width="1.15" fill="#fff" />
<line x1="561.5" y1="455" x2="561.5" y2="516" stroke-width="1.03" stroke-dasharray="9.7 1.8" stroke-dashoffset="3.6"/>
<line x1="509.5" y1="457.3" x2="509.5" y2="533.3" stroke-width="0.8" />
<line x1="614.5" y1="457.3" x2="614.5" y2="533.3" stroke-width="0.8" />
<line x1="509.6" y1="529.5" x2="614.4" y2="529.5" stroke-width="0.8" />
<polygon points="509.6,529.5 516.1,528 516.1,531" fill="#111" stroke="none"/>
<polygon points="614.4,529.5 607.9,531 607.9,528" fill="#111" stroke="none"/>
<text transform="translate(554.8 527.6)" font-family='"Liberation Serif",serif' fill="#111" stroke="#111" stroke-width="0.25"><tspan x="0" y="0" font-size="12.8" textLength="17.6" lengthAdjust="spacingAndGlyphs">135</tspan></text>
<line x1="629.5" y1="444" x2="629.5" y2="471.4" stroke-width="0.8" />
<polygon points="629.5,457.2 628.3,451.7 630.7,451.7" fill="#111" stroke="none"/>
<polygon points="629.5,459.6 630.7,465.1 628.3,465.1" fill="#111" stroke="none"/>
<text transform="translate(626.9 471) rotate(-90)" font-family='"Liberation Serif",serif' fill="#111" stroke="#111" stroke-width="0.25"><tspan x="0" y="0" font-size="12.6" textLength="7.2" lengthAdjust="spacingAndGlyphs">2</tspan></text>
</g>
</svg>
</body></html>
